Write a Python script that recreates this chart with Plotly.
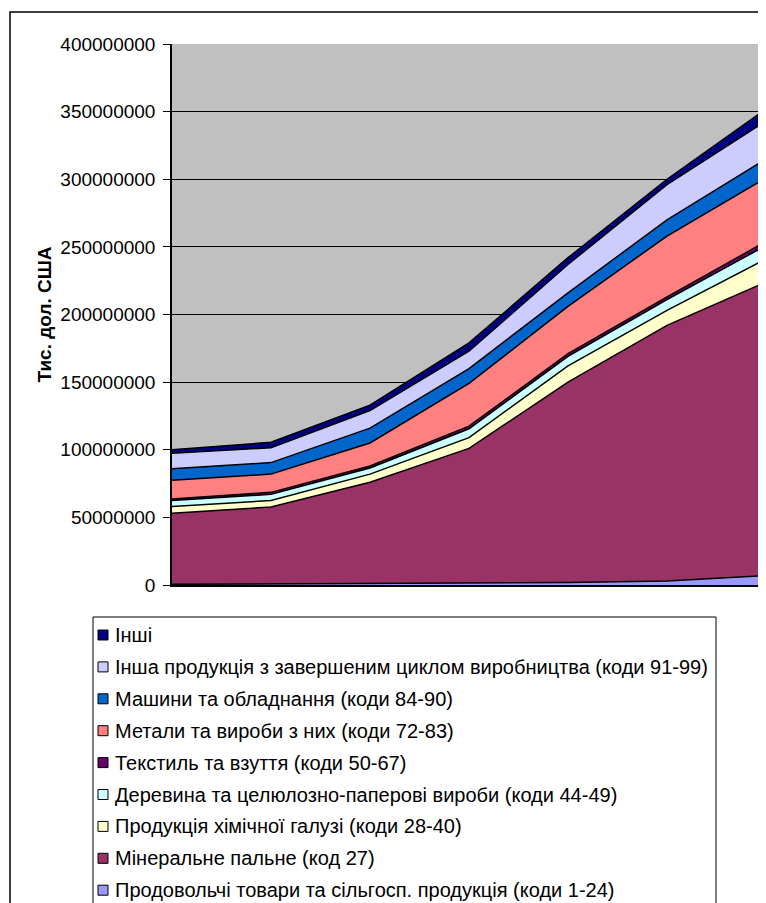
import plotly.graph_objects as go

# categories (x labels are not shown on the chart)
periods = [0, 1, 2, 3, 4, 5, 6]

# series, bottom to top of the stack, in thousand USD
food = [500000, 800000, 900000, 1000000, 1800000, 3000000, 7000000]
mineral = [52500000, 56900000, 75100000, 100000000, 148200000, 189000000, 217000000]
chem = [5000000, 4800000, 6000000, 8000000, 12000000, 11000000, 17000000]
wood = [4500000, 4500000, 4500000, 6500000, 7000000, 8000000, 10000000]
textile = [1000000, 1500000, 1500000, 2000000, 2000000, 2000000, 3000000]
metals = [14000000, 13500000, 17000000, 31500000, 35000000, 45000000, 47000000]
machines = [8500000, 8500000, 11000000, 11000000, 10000000, 12000000, 14000000]
other_finished = [11500000, 11000000, 13000000, 13000000, 21000000, 26000000, 28000000]
other = [2500000, 4000000, 4000000, 6000000, 5000000, 4000000, 9000000]

names = [
    "Продовольчі товари та сільгосп. продукція (коди 1-24)",
    "Мінеральне пальне (код 27)",
    "Продукція хімічної галузі (коди 28-40)",
    "Деревина та целюлозно-паперові вироби (коди 44-49)",
    "Текстиль та взуття (коди 50-67)",
    "Метали та вироби з них (коди 72-83)",
    "Машини та обладнання (коди 84-90)",
    "Інша продукція з завершеним циклом виробництва (коди 91-99)",
    "Інші",
]
colors = ["#9999FF", "#993366", "#FFFFCC", "#CCFFFF", "#660066",
          "#FF8080", "#0066CC", "#CCCCFF", "#000080"]
series = [food, mineral, chem, wood, textile, metals, machines, other_finished, other]

# page pixels: the html body adds an 8px margin, so the figure sits at (8, 8)
OFF = 8
W, H = 766 - OFF, 903 - OFF
plot_left, plot_right, plot_top, plot_bottom = 172, 766, 44, 585
L = plot_left - OFF
R = W - (plot_right - OFF)
T = plot_top - OFF
B = H - (plot_bottom - OFF)
pw, ph = plot_right - plot_left, plot_bottom - plot_top


def px_x(px):
    return (px - plot_left) / pw


def px_y(py):
    return (plot_bottom - py) / ph


fig = go.Figure()
for name, color, vals in zip(names, colors, series):
    fig.add_trace(go.Scatter(
        x=periods, y=vals, name=name, mode="lines",
        stackgroup="one", fillcolor=color,
        line=dict(color="black", width=1.5),
        showlegend=False,
    ))

font = "Arial, Liberation Sans, sans-serif"
shapes = []
annotations = []

# outer chart border (right and bottom run off the picture)
shapes.append(dict(type="rect", xref="paper", yref="paper",
                   x0=px_x(10), x1=px_x(820), y0=px_y(12), y1=px_y(980),
                   line=dict(color="black", width=1.5), layer="below"))

# legend box, drawn by hand to get Excel's spacing
shapes.append(dict(type="rect", xref="paper", yref="paper",
                   x0=px_x(93), x1=px_x(716), y0=px_y(617), y1=px_y(980),
                   line=dict(color="black", width=1), fillcolor="white"))
for i, (name, color) in enumerate(zip(names[::-1], colors[::-1])):
    yc = 635 + i * 31.9
    shapes.append(dict(type="rect", xref="paper", yref="paper",
                       x0=px_x(98), x1=px_x(108), y0=px_y(yc - 5), y1=px_y(yc + 5),
                       line=dict(color="black", width=1), fillcolor=color))
    annotations.append(dict(xref="paper", yref="paper", x=px_x(113), y=px_y(yc),
                            text=name, showarrow=False, xanchor="left", yanchor="middle",
                            font=dict(family=font, size=20, color="black")))

annotations.append(dict(xref="paper", yref="paper", x=px_x(44), y=0.5,
                        text="<b>Тис. дол. США</b>", textangle=-90, showarrow=False,
                        xanchor="center", yanchor="middle",
                        font=dict(family=font, size=19, color="black")))

fig.update_layout(
    width=W, height=H,
    margin=dict(l=L, r=R, t=T, b=B),
    paper_bgcolor="white", plot_bgcolor="#C0C0C0",
    shapes=shapes, annotations=annotations,
    font=dict(family=font, color="black"),
)
fig.update_xaxes(range=[0, 6], showticklabels=False, showgrid=False, zeroline=False,
                 showline=True, linecolor="black", linewidth=1.5, ticks="")
fig.update_yaxes(range=[0, 400000000], dtick=50000000, tickformat="d",
                 showgrid=True, gridcolor="black", gridwidth=1, zeroline=False,
                 showline=True, linecolor="black", linewidth=1.5,
                 ticks="outside", ticklen=7, tickcolor="black", ticklabelstandoff=4,
                 tickfont=dict(family=font, size=19, color="black"))

fig.write_html("out.html")
